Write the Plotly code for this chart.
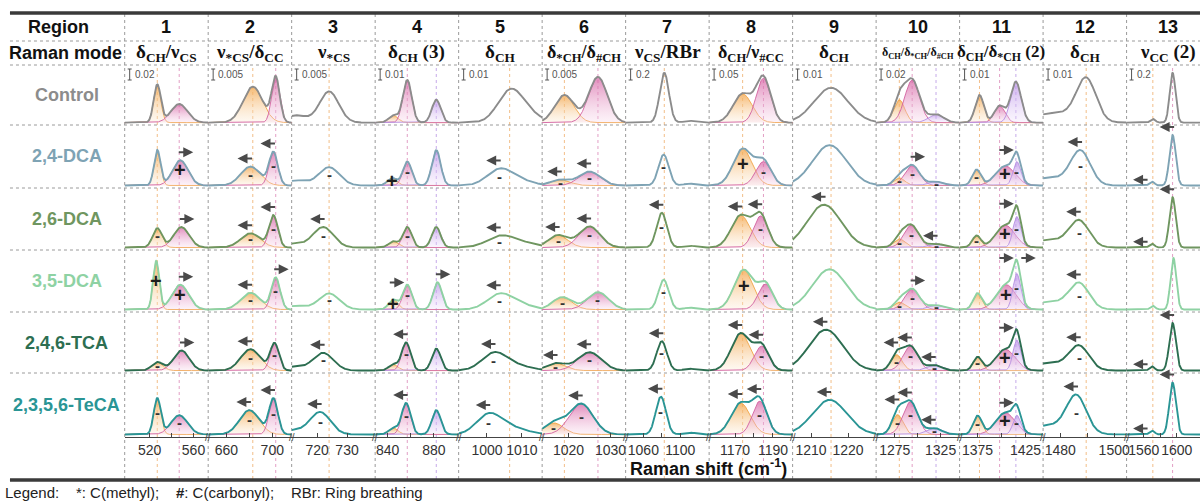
import numpy as np
import plotly.graph_objects as go

# ---------------------------------------------------------------- text data
samples = ["Control", "2,4-DCA", "2,6-DCA", "3,5-DCA", "2,4,6-TCA", "2,3,5,6-TeCA"]
sample_colors = ["#8c8c8c", "#7ea3b4", "#6f9660", "#8ed2a3", "#2d6e51", "#2a9595"]

regions = [str(i) for i in range(1, 14)]
raman_modes = [
    "δ<sub>CH</sub>/ν<sub>CS</sub>",
    "ν<sub>*CS</sub>/δ<sub>CC</sub>",
    "ν<sub>*CS</sub>",
    "δ<sub>CH</sub> (3)",
    "δ<sub>CH</sub>",
    "δ<sub>*CH</sub>/δ<sub>#CH</sub>",
    "ν<sub>CS</sub>/RBr",
    "δ<sub>CH</sub>/ν<sub>#CC</sub>",
    "δ<sub>CH</sub>",
    "δ<sub>CH</sub>/δ<sub>*CH</sub>/δ<sub>#CH</sub>",
    "δ<sub>CH</sub>/δ<sub>*CH</sub> (2)",
    "δ<sub>CH</sub>",
    "ν<sub>CC</sub> (2)",
]
scale_bars = ["0.02", "0.005", "0.005", "0.01", "0.01", "0.005", "0.2",
              "0.05", "0.01", "0.02", "0.01", "0.01", "0.2"]

# Raman shift window of every region (cm-1) and its ticks
shift_windows = [
    [497.3, 573.4], [644.1, 716.9], [711.5, 739.4], [829.3, 901.3],
    [991.9, 1015.8], [1013.7, 1033.6], [1040.8, 1131.3], [1156.3, 1200.4],
    [1205.0, 1227.6], [1254.7, 1345.7], [1356.25, 1443.4], [1473.6, 1504.6],
    [1539.1, 1628.3],
]
tick_values = [
    [520, 540, 560], [660, 680, 700], [720, 730], [840, 860, 880],
    [1000, 1010], [1020, 1030], [1060, 1080, 1100], [1170, 1180, 1190],
    [1210, 1220], [1275, 1300, 1325], [1375, 1400, 1425], [1480, 1490, 1500],
    [1560, 1580, 1600],
]
tick_labels = [
    ["520", "", "560"], ["660", "", "700"], ["720", "730"], ["840", "", "880"],
    ["1000", "1010"], ["1020", "1030"], ["1060", "", "1100"], ["1170", "", "1190"],
    ["1210", "1220"], ["1275", "", "1325"], ["1375", "", "1425"], ["1480", "", "1500"],
    ["1560", "", "1600"],
]

# band kind per region: o = orange, p = pink, v = violet, n = unfilled band
band_kinds = [
    ["o", "p"], ["o", "p"], ["n", "n"], ["o", "p", "v"], ["n", "n"], ["o", "p"],
    ["n", "n"], ["o", "p"], ["n"], ["o", "p", "v"], ["o", "p", "v"], ["n", "n"],
    ["n", "n"],
]
# colour of the reference line drawn at each control band position
guide_kinds = [
    ["o", "p"], ["o", "p"], ["o", None], [None, "p", "v"], ["o", None], ["o", "p"],
    ["o", None], ["o", "p"], ["o"], ["o", "p", "v"], ["o", "p", "v"], ["o", None],
    ["o", "p"],
]

# fitted bands per sample: (centre cm-1, height, width) for regions 1..13
control_bands = [
    [(527, 0.63, 3.2), (547, 0.31, 7.5)],
    [(683, 0.60, 8.5), (703, 0.74, 3.5)],
    [(724, 0.52, 3.2), (713, 0.12, 3.5)],
    [(845, 0.12, 4.0), (857, 0.71, 3.8), (882, 0.38, 3.8)],
    [(1006.5, 0.48, 3.5), (1011, 0.15, 4.0)],
    [(1019, 0.46, 2.3), (1027, 0.76, 2.2)],
    [(1082.7, 0.83, 5.0), (1110, 0.03, 6.0)],
    [(1174, 0.48, 5.0), (1185, 0.74, 3.8)],
    [(1215.4, 0.58, 4.6)],
    [(1280, 0.38, 6.0), (1294, 0.71, 8.0), (1320, 0.14, 8.0)],
    [(1377, 0.46, 4.5), (1398, 0.28, 5.5), (1415, 0.68, 5.5)],
    [(1489.6, 0.70, 3.6), (1478, 0.16, 8.0)],
    [(1571, 0.06, 3.0), (1595, 0.83, 3.5)],
]
dca24_bands = [
    [(527, 0.56, 3.0), (548, 0.40, 7.0)],
    [(681, 0.30, 8.5), (701, 0.52, 3.8)],
    [(724, 0.29, 3.4), (713, 0.08, 3.5)],
    [(844, 0.12, 4.0), (857, 0.38, 3.8), (882, 0.56, 3.8)],
    [(1003.5, 0.24, 3.5), (1009, 0.08, 4.0)],
    [(1018, 0.09, 2.3), (1025, 0.22, 2.5)],
    [(1082, 0.49, 5.5), (1110, 0.03, 6.0)],
    [(1174, 0.58, 5.0), (1185, 0.38, 4.0)],
    [(1215, 0.64, 4.6)],
    [(1280, 0.12, 6.0), (1294, 0.32, 8.0), (1320, 0.06, 8.0)],
    [(1374, 0.25, 4.5), (1404, 0.31, 10.0), (1416, 0.38, 4.0)],
    [(1487.5, 0.52, 3.6), (1476, 0.12, 8.0)],
    [(1570, 0.06, 3.0), (1595, 0.80, 3.8)],
]
dca26_bands = [
    [(527, 0.31, 4.2), (549, 0.33, 7.0)],
    [(681, 0.23, 8.5), (701, 0.51, 3.8)],
    [(722, 0.33, 3.4), (712, 0.06, 3.5)],
    [(845, 0.10, 4.0), (857, 0.33, 3.8), (882, 0.33, 3.8)],
    [(1003.5, 0.15, 3.8), (1009, 0.08, 5.0)],
    [(1017.5, 0.20, 2.3), (1025, 0.34, 2.5)],
    [(1080, 0.56, 5.5), (1110, 0.03, 6.0)],
    [(1173, 0.52, 5.0), (1183.5, 0.51, 3.8)],
    [(1213.5, 0.69, 4.6)],
    [(1280, 0.14, 6.0), (1293, 0.36, 8.0), (1320, 0.06, 8.0)],
    [(1374, 0.19, 4.5), (1404, 0.36, 10.0), (1416, 0.50, 4.0)],
    [(1487, 0.40, 3.6), (1476, 0.12, 8.0)],
    [(1570, 0.06, 3.0), (1595, 0.81, 3.8)],
]
dca35_bands = [
    [(526, 0.78, 2.8), (548, 0.40, 7.5)],
    [(681, 0.27, 8.5), (703, 0.51, 3.8)],
    [(724, 0.26, 3.4), (713, 0.06, 3.5)],
    [(845, 0.16, 4.0), (857, 0.40, 3.8), (883, 0.44, 3.8)],
    [(1003.5, 0.23, 3.5), (1009, 0.08, 4.0)],
    [(1018.5, 0.20, 2.3), (1027, 0.28, 2.5)],
    [(1082, 0.48, 5.5), (1110, 0.03, 6.0)],
    [(1174.5, 0.64, 5.0), (1186, 0.41, 3.8)],
    [(1215, 0.65, 4.6)],
    [(1280, 0.12, 6.0), (1294, 0.33, 8.0), (1320, 0.07, 8.0)],
    [(1375, 0.26, 4.5), (1405, 0.40, 10.0), (1416, 0.58, 4.0)],
    [(1487, 0.39, 3.6), (1476, 0.12, 8.0)],
    [(1571, 0.06, 3.0), (1596, 0.83, 3.5)],
]
tca246_bands = [
    [(527, 0.14, 5.0), (549, 0.33, 7.0)],
    [(681, 0.35, 8.5), (702, 0.44, 3.8)],
    [(722, 0.29, 3.4), (712, 0.06, 3.5)],
    [(845, 0.10, 4.0), (856, 0.46, 3.8), (882, 0.36, 3.8)],
    [(1002, 0.27, 3.5), (1008, 0.08, 4.5)],
    [(1017, 0.12, 2.3), (1025, 0.30, 2.8)],
    [(1080, 0.48, 5.5), (1110, 0.03, 6.0)],
    [(1173, 0.61, 5.0), (1184, 0.40, 3.8)],
    [(1214, 0.67, 4.6)],
    [(1277, 0.26, 6.0), (1292, 0.40, 8.0), (1318, 0.09, 8.0)],
    [(1375, 0.22, 4.5), (1404, 0.35, 10.0), (1416, 0.50, 4.0)],
    [(1487, 0.37, 3.6), (1476, 0.12, 8.0)],
    [(1570, 0.07, 3.0), (1595, 0.78, 4.0)],
]
teca2356_bands = [
    [(527, 0.56, 3.2), (547, 0.30, 7.5)],
    [(680, 0.38, 8.5), (701, 0.55, 3.8)],
    [(721, 0.35, 3.4), (712, 0.06, 3.5)],
    [(845, 0.10, 4.0), (856, 0.49, 3.8), (882, 0.38, 3.8)],
    [(1000.5, 0.30, 3.5), (1007, 0.10, 4.5)],
    [(1016.5, 0.18, 2.3), (1023, 0.48, 2.8)],
    [(1079, 0.59, 5.5), (1110, 0.03, 6.0)],
    [(1173, 0.49, 5.0), (1183, 0.52, 3.8)],
    [(1215, 0.54, 4.6)],
    [(1278, 0.31, 6.0), (1292, 0.51, 8.0), (1318, 0.10, 8.0)],
    [(1375, 0.29, 4.5), (1404, 0.34, 10.0), (1416, 0.30, 4.0)],
    [(1486, 0.56, 3.6), (1476, 0.14, 8.0)],
    [(1570, 0.06, 3.0), (1595, 0.81, 4.0)],
]

# change markers: (region, band index, symbol, placement)
control_marks = []
dca24_marks = [
    (1, 1, "+", "in"), (1, 1, "→", "top"),
    (2, 0, "-", "in"), (2, 0, "←", "top"), (2, 1, "-", "in"), (2, 1, "←", "top"),
    (3, 0, "-", "in"),
    (4, 0, "+", "in"), (4, 1, "-", "in"),
    (5, 0, "-", "in"), (5, 0, "←", "top"),
    (6, 0, "-", "in"), (6, 0, "←", "top"), (6, 1, "-", "in"), (6, 1, "←", "top"),
    (7, 0, "-", "in"),
    (8, 0, "+", "in"), (8, 1, "-", "in"),
    (10, 0, "-", "in"), (10, 1, "-", "in"), (10, 1, "→", "top"), (10, 2, "-", "in"),
    (11, 0, "-", "in"), (11, 0, "←", "left"), (11, 1, "+", "in"), (11, 2, "-", "in"),
    (11, 2, "→", "left"),
    (12, 0, "-", "in"), (12, 0, "←", "top"),
    (13, 0, "←", "left"), (13, 1, "←", "top"),
]
dca26_marks = [
    (1, 0, "-", "in"), (1, 1, "→", "top"),
    (2, 0, "-", "in"), (2, 0, "←", "top"), (2, 1, "-", "in"), (2, 1, "←", "top"),
    (3, 0, "-", "in"), (3, 0, "←", "top"),
    (4, 1, "-", "in"),
    (5, 0, "-", "in"), (5, 0, "←", "top"),
    (6, 0, "-", "in"), (6, 0, "←", "top"), (6, 1, "-", "in"), (6, 1, "←", "top"),
    (7, 0, "-", "in"), (7, 0, "←", "top"),
    (8, 0, "←", "top"), (8, 1, "-", "in"), (8, 1, "←", "top"),
    (9, 0, "←", "top"),
    (10, 0, "-", "in"), (10, 1, "-", "in"), (10, 2, "-", "in"), (10, 2, "←", "top"),
    (11, 0, "-", "in"), (11, 0, "←", "left"), (11, 1, "+", "in"), (11, 2, "-", "in"),
    (11, 2, "→", "left"),
    (12, 0, "-", "in"), (12, 0, "←", "top"),
    (13, 0, "←", "left"), (13, 1, "←", "top"),
]
dca35_marks = [
    (1, 0, "+", "in"), (1, 1, "+", "in"), (1, 1, "→", "top"),
    (2, 0, "-", "in"), (2, 0, "←", "top"), (2, 1, "-", "in"), (2, 1, "→", "top"),
    (3, 0, "-", "in"),
    (4, 0, "+", "in"), (4, 1, "-", "in"), (4, 1, "→", "left"), (4, 2, "→", "top"),
    (5, 0, "-", "in"), (5, 0, "←", "top"),
    (6, 0, "-", "in"), (6, 1, "-", "in"),
    (7, 0, "-", "in"),
    (8, 0, "+", "in"), (8, 1, "-", "in"),
    (10, 0, "-", "in"), (10, 1, "-", "in"), (10, 1, "→", "top"), (10, 2, "-", "in"),
    (11, 1, "+", "in"), (11, 2, "-", "in"), (11, 2, "→", "left"), (11, 2, "→", "right"),
    (12, 0, "-", "in"), (12, 0, "←", "top"),
]
tca246_marks = [
    (1, 0, "-", "in"), (1, 1, "→", "top"),
    (2, 0, "-", "in"), (2, 0, "←", "top"), (2, 1, "-", "in"),
    (3, 0, "-", "in"), (3, 0, "←", "top"),
    (4, 1, "-", "in"), (4, 1, "←", "top"),
    (5, 0, "-", "in"), (5, 0, "←", "top"),
    (6, 0, "-", "in"), (6, 0, "←", "top"), (6, 1, "-", "in"), (6, 1, "←", "top"),
    (7, 0, "-", "in"), (7, 0, "←", "top"),
    (8, 0, "←", "top"), (8, 1, "-", "in"), (8, 1, "←", "top"),
    (9, 0, "←", "top"),
    (10, 0, "-", "in"), (10, 0, "←", "top"), (10, 1, "-", "in"), (10, 1, "←", "top"),
    (10, 2, "-", "in"), (10, 2, "←", "top"),
    (11, 0, "-", "in"), (11, 0, "←", "left"), (11, 1, "+", "in"), (11, 2, "-", "in"),
    (11, 2, "→", "left"),
    (12, 0, "-", "in"), (12, 0, "←", "top"),
    (13, 0, "←", "left"), (13, 1, "←", "top"),
]
teca2356_marks = [
    (1, 0, "-", "in"), (1, 1, "-", "in"),
    (2, 0, "-", "in"), (2, 0, "←", "top"), (2, 1, "-", "in"), (2, 1, "←", "top"),
    (3, 0, "-", "in"), (3, 0, "←", "top"),
    (4, 1, "-", "in"), (4, 1, "←", "top"),
    (5, 0, "-", "in"), (5, 0, "←", "top"),
    (6, 0, "-", "in"), (6, 0, "←", "top"), (6, 1, "-", "in"), (6, 1, "←", "top"),
    (7, 0, "-", "in"), (7, 0, "←", "top"),
    (8, 0, "←", "top"), (8, 1, "-", "in"), (8, 1, "←", "top"),
    (9, 0, "←", "top"),
    (10, 0, "-", "in"), (10, 0, "←", "top"), (10, 1, "-", "in"), (10, 1, "←", "top"),
    (10, 2, "-", "in"), (10, 2, "←", "top"),
    (11, 0, "-", "in"), (11, 0, "←", "left"), (11, 1, "+", "in"), (11, 2, "-", "in"),
    (11, 2, "→", "left"),
    (12, 0, "-", "in"), (12, 0, "←", "top"),
    (13, 0, "←", "left"), (13, 1, "←", "top"),
]

all_bands = [control_bands, dca24_bands, dca26_bands, dca35_bands, tca246_bands, teca2356_bands]
all_marks = [control_marks, dca24_marks, dca26_marks, dca35_marks, tca246_marks, teca2356_marks]

# ---------------------------------------------------------------- geometry / styles
W, H = 1203, 501
col_edges = [125, 208.7, 292.4, 376.1, 459.8, 543.5, 627.2, 710.9, 794.6,
             878.3, 962.0, 1045.7, 1129.4, 1203]
row_edges = [65, 125, 188, 250, 312, 373, 437]
Y0, Y1 = -0.04, 0.96
SANS = "Liberation Sans, Arial, sans-serif"
SERIF = "Liberation Serif, Times New Roman, serif"
NB = "\u00a0"

band_style = {
    "o": dict(line="#f0a446", top="rgba(243,166,76,0.80)", bottom="rgba(252,234,210,0.30)"),
    "p": dict(line="#d2609f", top="rgba(212,92,160,0.72)", bottom="rgba(247,214,234,0.30)"),
    "v": dict(line="#b68ee2", top="rgba(182,138,230,0.72)", bottom="rgba(238,224,251,0.30)"),
}
guide_color = {"o": "rgba(238,168,96,0.75)", "p": "rgba(214,118,172,0.7)",
               "v": "rgba(172,132,222,0.7)"}


def px_x(px):
    return px / W


def px_y(py):
    return 1 - py / H


def gauss(x, c, h, s):
    return h * np.exp(-0.5 * ((x - c) / s) ** 2)


def ax_name(kind, n):
    return kind if n == 1 else f"{kind}{n}"


def paper_text(x, y, text, font, xanchor="center"):
    return dict(x=px_x(x), y=px_y(y), xref="paper", yref="paper", text=text,
                showarrow=False, xanchor=xanchor, yanchor="middle", font=font)


fig = go.Figure()
annotations = []
shapes = []
layout = dict(
    width=W, height=H, margin=dict(l=0, r=0, t=0, b=0),
    paper_bgcolor="white", plot_bgcolor="rgba(0,0,0,0)", showlegend=False,
)

ppu = []  # pixels per cm-1 in every region
for c in range(13):
    lo, hi = shift_windows[c]
    ppu.append((col_edges[c + 1] - col_edges[c]) / (hi - lo))
    layout["xaxis" if c == 0 else f"xaxis{c + 1}"] = dict(
        domain=[px_x(col_edges[c]), min(1.0, px_x(col_edges[c + 1]))],
        range=[lo, hi], anchor=ax_name("y", 5 * 13 + c + 1),
        tickvals=tick_values[c], ticktext=tick_labels[c], tickangle=0,
        ticks="inside", ticklen=4, tickwidth=1, tickcolor="#444",
        showline=True, linecolor="#444", linewidth=1.2,
        showgrid=False, zeroline=False, fixedrange=True,
        tickfont=dict(family=SANS, size=14, color="#333"),
    )

for r in range(6):
    top, bot = row_edges[r], row_edges[r + 1]
    row_h = bot - top
    for c in range(13):
        n = r * 13 + c + 1
        layout["yaxis" if n == 1 else f"yaxis{n}"] = dict(
            domain=[px_y(bot), px_y(top)], range=[Y0, Y1],
            anchor=ax_name("x", c + 1), visible=False, fixedrange=True,
        )
        xa, ya = ax_name("x", c + 1), ax_name("y", n)
        lo, hi = shift_windows[c]
        xs = np.linspace(lo, hi, 400)
        bands = all_bands[r][c]
        total = np.zeros_like(xs)
        for k, (bc, bh, bw) in enumerate(bands):
            g = gauss(xs, bc, bh, bw)
            total += g
            kind = band_kinds[c][k]
            if kind == "n":
                continue
            st = band_style[kind]
            fig.add_trace(go.Scatter(
                x=xs, y=g, mode="lines", xaxis=xa, yaxis=ya,
                line=dict(color=st["line"], width=0.9),
                fill="tozeroy",
                fillgradient=dict(type="vertical",
                                  colorscale=[[0, st["bottom"]], [1, st["top"]]]),
                hoverinfo="skip",
            ))
        fig.add_trace(go.Scatter(
            x=xs, y=total, mode="lines", xaxis=xa, yaxis=ya,
            line=dict(color=sample_colors[r], width=1.9), hoverinfo="skip",
        ))

        def curve_at(x0, bands=bands):
            return sum(gauss(x0, bc, bh, bw) for bc, bh, bw in bands)

        unit_per_px = (Y1 - Y0) / row_h
        for (reg, k, sym, place) in all_marks[r]:
            if reg != c + 1:
                continue
            bc, bh, bw = bands[k]
            if sym in "+-":
                annotations.append(dict(
                    x=bc, y=0.6 * bh, xref=xa, yref=ya, showarrow=False,
                    text=f"<b>{sym}</b>",
                    font=dict(family=SANS, size=20 if sym == "+" else 15,
                              color="#1e1e1e" if sym == "+" else "#333"),
                    xanchor="center", yanchor="middle",
                ))
            else:
                step = 1 if sym == "→" else -1
                if place == "top":
                    off_px, dy_px = 5 * step, 8
                elif place == "left":
                    off_px, dy_px = -11, 2
                else:
                    off_px, dy_px = 11, 2
                centre = bc + off_px / ppu[c]
                head = centre + step * 8 / ppu[c]
                yv = curve_at(bc) + dy_px * unit_per_px
                annotations.append(dict(
                    x=head, y=yv, xref=xa, yref=ya, showarrow=True,
                    ax=-step * 16, ay=0, text="",
                    arrowhead=2, arrowsize=1.0, arrowwidth=2,
                    arrowcolor="#4a4a4a", standoff=0,
                ))

# reference lines at the control band positions, running through every row
for c in range(13):
    for k, gk in enumerate(guide_kinds[c]):
        if gk is None:
            continue
        xc = control_bands[c][k][0]
        shapes.append(dict(
            type="line", xref=ax_name("x", c + 1), yref="paper",
            x0=xc, x1=xc, y0=px_y(479), y1=px_y(66),
            line=dict(color=guide_color[gk], width=1, dash="dot"), layer="below",
        ))

# table grid
for xe in col_edges[:-1]:
    shapes.append(dict(type="line", xref="paper", yref="paper",
                       x0=px_x(xe), x1=px_x(xe), y0=px_y(479), y1=px_y(14),
                       line=dict(color="#9a9a9a", width=1, dash="dot"), layer="below"))
for ye in [41, 65, 125, 188, 250, 312, 373]:
    shapes.append(dict(type="line", xref="paper", yref="paper",
                       x0=px_x(10), x1=1, y0=px_y(ye), y1=px_y(ye),
                       line=dict(color="#9a9a9a", width=1, dash="dot"), layer="below"))
for ye in [13, 480]:
    shapes.append(dict(type="line", xref="paper", yref="paper",
                       x0=px_x(10), x1=1, y0=px_y(ye), y1=px_y(ye),
                       line=dict(color="#3a3a3a", width=3.5)))

# axis breaks
for xe in col_edges[1:-1]:
    annotations.append(paper_text(xe, 437, "//", dict(family=SANS, size=10, color="#444")))

# scale bars in the control row
for c in range(13):
    xb = col_edges[c] + 5
    for y0p, y1p, x0p, x1p in [(69, 80, xb, xb), (69, 69, xb - 2, xb + 2), (80, 80, xb - 2, xb + 2)]:
        shapes.append(dict(type="line", xref="paper", yref="paper",
                           x0=px_x(x0p), x1=px_x(x1p), y0=px_y(y0p), y1=px_y(y1p),
                           line=dict(color="#555", width=1)))
    annotations.append(paper_text(xb + 3, 74, scale_bars[c],
                                  dict(family=SANS, size=10, color="#555"), xanchor="left"))

# header rows
annotations.append(paper_text(59, 27, "<b>Region</b>", dict(family=SANS, size=18, color="#111")))
annotations.append(paper_text(66, 53, "<b>Raman mode</b>", dict(family=SANS, size=18, color="#111")))
mode_sizes = [19, 19, 19, 19, 19, 18, 19, 18, 19, 12, 17, 19, 19]
for c in range(13):
    xc = col_edges[c] + 83.7 / 2
    annotations.append(paper_text(xc, 27, f"<b>{regions[c]}</b>",
                                  dict(family=SANS, size=18, color="#111")))
    annotations.append(paper_text(xc, 53, f"<b>{raman_modes[c]}</b>",
                                  dict(family=SERIF, size=mode_sizes[c], color="#111")))

# sample labels
for r in range(6):
    yc = (row_edges[r] + row_edges[r + 1]) / 2
    annotations.append(paper_text(67, yc, f"<b>{samples[r]}</b>",
                                  dict(family=SANS, size=18, color=sample_colors[r])))

# axis title and legend line
annotations.append(paper_text(710, 467, "<b>Raman shift (cm<sup>-1</sup>)</b>",
                              dict(family=SANS, size=18, color="#111")))
legend_text = (f"Legend:{NB * 4}*: C(methyl);{NB * 4}<b>#</b>: C(carbonyl);"
               f"{NB * 4}RBr: Ring breathing")
annotations.append(paper_text(3, 492, legend_text,
                              dict(family=SANS, size=15, color="#222"), xanchor="left"))

layout["annotations"] = annotations
layout["shapes"] = shapes
fig.update_layout(**layout)
fig.write_html("out.html")
